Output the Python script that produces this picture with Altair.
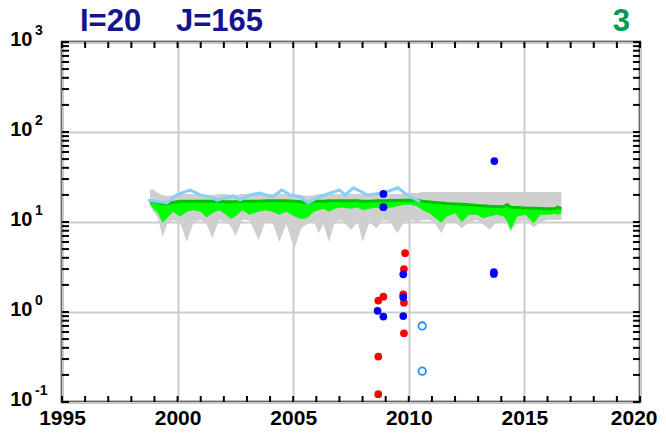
import altair as alt
import pandas as pd

# ---------------- data ----------------
band_year = [1998.80, 1998.95, 1999.15, 1999.35, 1999.55, 1999.80, 2000.10, 2000.40, 2000.70, 2001.00,
             2001.25, 2001.50, 2001.80, 2002.10, 2002.30, 2002.50, 2002.80, 2003.10, 2003.50, 2003.80,
             2004.10, 2004.40, 2004.70, 2005.05, 2005.35, 2005.60, 2005.90, 2006.10, 2006.30, 2006.55,
             2006.80, 2007.10, 2007.50, 2007.80, 2008.00, 2008.30, 2008.60, 2008.90, 2009.20, 2009.50,
             2009.80, 2010.10, 2010.35, 2010.60, 2010.90, 2011.15, 2011.40, 2011.65, 2012.00, 2012.30,
             2012.60, 2012.95, 2013.20, 2013.50, 2013.80, 2014.10, 2014.25, 2014.40, 2014.70, 2015.05,
             2015.40, 2015.70, 2016.00, 2016.30, 2016.45, 2016.60]
gray_hi = [23, 23, 21, 20, 19.5, 20, 20.5, 20.5, 20.5, 20.5,
           20, 20, 20.5, 20.5, 20, 20, 20.5, 20.5, 20.5, 20.5,
           20.5, 20.5, 20.5, 20.5, 20, 19.5, 20, 20.5, 20.5, 20.5,
           20.5, 20.5, 20.5, 20.5, 20.5, 20.5, 20.5, 20.5, 20.5, 20.5,
           20.5, 21, 21, 21.5, 21.5, 21.5, 21.5, 21.5, 21.5, 21.5,
           21.5, 21.5, 21.5, 21.5, 21.5, 21.5, 21.5, 21.5, 21.5, 21.5,
           21.5, 21.5, 21.5, 21.5, 21.5, 21.5]
gray_lo = [15.5, 13, 11, 6.8, 9.5, 10.5, 10, 6.0, 10, 10.5,
           9.5, 6.6, 10.5, 10, 9, 7.0, 10.5, 10.5, 6.3, 10,
           10, 6.0, 9.5, 5.0, 8.5, 9.5, 10, 7.5, 9.5, 6.0,
           10, 10.5, 8.2, 10, 6.0, 10, 8.5, 10.5, 10, 7.5,
           10, 10.5, 10, 10.5, 10.5, 9.5, 7.5, 10, 10, 8.5,
           10, 10.5, 9.5, 8.2, 10, 10, 9.5, 7.8, 10, 10.5,
           8.7, 10, 10.5, 10.5, 10.5, 10.5]
green_mid = [17.0, 17.0, 16.5, 16.0, 16.0, 16.5, 17.0, 17.0, 17.0, 17.0,
             17.0, 17.0, 17.0, 16.8, 16.8, 16.8, 17.0, 17.0, 17.0, 17.2,
             17.2, 17.2, 17.2, 17.0, 16.8, 16.3, 17.0, 17.0, 17.0, 17.2,
             17.2, 17.2, 17.2, 17.2, 17.0, 17.0, 17.2, 17.2, 17.3, 17.3,
             17.5, 17.5, 17.5, 17.0, 16.7, 16.5, 16.3, 16.1, 15.9, 15.7,
             15.5, 15.3, 15.2, 15.0, 14.9, 14.8, 15.6, 14.6, 14.5, 14.3,
             14.2, 14.1, 14.0, 14.0, 14.6, 14.0]
green_lo = [16.0, 14.0, 12.5, 9.8, 11.0, 13.0, 11.5, 13.0, 13.5, 13.0,
            11.2, 12.5, 13.5, 12.0, 10.8, 11.5, 13.5, 12.0, 13.0, 13.5,
            13.0, 12.0, 13.0, 11.5, 10.8, 11.0, 13.0, 13.5, 14.0, 13.0,
            14.0, 14.5, 14.0, 14.5, 13.5, 14.0, 14.5, 13.5, 14.5, 15.0,
            15.5, 15.5, 15.0, 13.5, 12.5, 11.0, 9.8, 11.5, 12.5, 10.0,
            12.0, 12.0, 11.0, 11.5, 12.0, 11.5, 10.3, 8.2, 11.5, 12.0,
            9.6, 12.0, 12.0, 12.3, 12.0, 12.5]

blue_year = [1998.72, 1999.54, 1999.97, 2000.54, 2000.97, 2001.40, 2001.70, 2002.40, 2002.70, 2003.13,
             2003.56, 2004.10, 2004.50, 2004.86, 2005.30, 2005.64, 2006.03, 2006.60, 2007.00, 2007.25,
             2007.60, 2008.20, 2008.90, 2009.53, 2009.92, 2010.48]
blue_val = [17.5, 16.3, 20.0, 22.7, 20.0, 19.0, 17.5, 19.5, 17.5, 20.0,
            21.0, 19.0, 22.7, 20.0, 19.0, 16.3, 18.5, 21.0, 22.7, 20.0,
            24.0, 20.0, 21.0, 24.0, 20.0, 16.8]

red_year = [2009.84, 2009.79, 2008.90, 2008.68, 2009.76, 2009.79, 2009.79, 2008.68, 2008.68]
red_val = [4.5, 3.0, 1.48, 1.34, 1.57, 1.27, 0.58, 0.32, 0.122]

bluept_year = [2009.76, 2009.76, 2008.65, 2008.90, 2009.76, 2013.68, 2013.68, 2013.70, 2008.90, 2008.90]
bluept_val = [2.62, 1.46, 1.03, 0.89, 0.90, 2.78, 2.65, 47.6, 20.5, 14.6]

open_year = [2010.58, 2010.58]
open_val = [0.70, 0.22]

x_labels = [1995, 2000, 2005, 2010, 2015, 2020]
y_decades = [0.1, 1, 10, 100, 1000]
y_exponents = ["-1", "0", "1", "2", "3"]

# ---------------- tables ----------------
band_df = pd.DataFrame({"year": band_year, "ghi": gray_hi, "glo": gray_lo,
                        "gmid": green_mid, "gnlo": green_lo})
blue_df = pd.DataFrame({"year": blue_year, "v": blue_val})
red_df = pd.DataFrame({"year": red_year, "v": red_val})
bluept_df = pd.DataFrame({"year": bluept_year, "v": bluept_val})
open_df = pd.DataFrame({"year": open_year, "v": open_val})
xt_df = pd.DataFrame({"year": list(range(1995, 2021))})
yt_vals = [d * k for d in [0.1, 1, 10, 100] for k in range(1, 10)] + [1000]
yt_df = pd.DataFrame({"v": yt_vals})
exp_df = pd.DataFrame({"v": y_decades, "e": y_exponents})

FONT = "Liberation Sans"
xscale = alt.Scale(domain=[1995, 2020], nice=False, zero=False)
yscale = alt.Scale(type="log", domain=[0.1, 1000], nice=False)

xaxis = alt.Axis(values=x_labels, format="d", title=None, ticks=False, domain=False,
                 grid=True, gridColor="#cccccc", gridWidth=2,
                 labelFont=FONT, labelFontSize=21, labelFontWeight="bold",
                 labelColor="black", labelPadding=5, labelFlush=False,
                 labelAlign={"condition": {"test": "datum.value == 2020", "value": "right"},
                             "value": "center"},
                 labelOffset={"condition": {"test": "datum.value == 2020", "value": 17},
                              "value": 0})
yaxis = alt.Axis(values=y_decades, labelExpr="'10'", title=None, ticks=False, domain=False,
                 grid=True, gridColor="#cccccc", gridWidth=2,
                 labelFont=FONT, labelFontSize=20, labelFontWeight="bold",
                 labelColor="black", labelAlign="right", labelBaseline="alphabetic",
                 labelOffset=3, labelPadding=30, labelFlush=False)

X = alt.X("year:Q", scale=xscale, axis=xaxis)


def Y(field):
    return alt.Y(field, scale=yscale, axis=yaxis)


gray = alt.Chart(band_df).mark_area(color="#cfcfcf").encode(
    x=X, y=Y("ghi:Q"), y2="glo:Q")
green_area = alt.Chart(band_df).mark_area(color="#00ff00").encode(
    x=X, y=Y("gmid:Q"), y2="gnlo:Q")
green_line = alt.Chart(band_df).mark_line(color="#00c400", strokeWidth=3).encode(
    x=X, y=Y("gmid:Q"))
blue_line = alt.Chart(blue_df).mark_line(color="#87cefa", strokeWidth=3).encode(
    x=X, y=Y("v:Q"))
red_pts = alt.Chart(red_df).mark_circle(color="#ff0000", size=60, opacity=1).encode(
    x=X, y=Y("v:Q"))
blue_pts = alt.Chart(bluept_df).mark_circle(color="#0000ff", size=60, opacity=1).encode(
    x=X, y=Y("v:Q"))
open_pts = alt.Chart(open_df).mark_point(color="#1e90ff", filled=False, size=55,
                                         strokeWidth=1.8, opacity=1).encode(
    x=X, y=Y("v:Q"))

# inward ticks
tick_bottom = alt.Chart(xt_df).mark_rule(color="black", strokeWidth=2).encode(
    x=X, y=alt.value(360), y2=alt.value(354))
tick_top = alt.Chart(xt_df).mark_rule(color="black", strokeWidth=2).encode(
    x=X, y=alt.value(0), y2=alt.value(6))
tick_left = alt.Chart(yt_df).mark_rule(color="black", strokeWidth=2).encode(
    y=Y("v:Q"), x=alt.value(0), x2=alt.value(7))
tick_right = alt.Chart(yt_df).mark_rule(color="black", strokeWidth=2).encode(
    y=Y("v:Q"), x=alt.value(578), x2=alt.value(571))

exps = alt.Chart(exp_df).mark_text(align="left", baseline="alphabetic", font=FONT,
                                   fontSize=14, fontWeight="bold", color="black", dy=-7).encode(
    y=Y("v:Q"), x=alt.value(-27), text="e:N")


def title_text(txt, xpos, color, align="left"):
    return alt.Chart(pd.DataFrame({"t": [txt]})).mark_text(
        align=align, baseline="alphabetic", font=FONT, fontSize=31, fontWeight="bold",
        color=color).encode(text="t:N", x=alt.value(xpos), y=alt.value(-11))


t1 = title_text("I=20", 18, "#14148c")
t2 = title_text("J=165", 114, "#14148c")
t3 = title_text("3", 568, "#009a50", align="right")

chart = alt.layer(
    gray, green_area, green_line, blue_line, red_pts, blue_pts, open_pts,
    tick_bottom, tick_top, tick_left, tick_right, exps, t1, t2, t3
).properties(
    width=578, height=360,
    autosize=alt.AutoSizeParams(type="none"),
    padding={"left": 54, "top": 34, "right": 18, "bottom": 32},
    background="white",
).configure_view(stroke="black", strokeWidth=2.5)

chart.save("out.html", embed_options={"renderer": "svg", "actions": False})
